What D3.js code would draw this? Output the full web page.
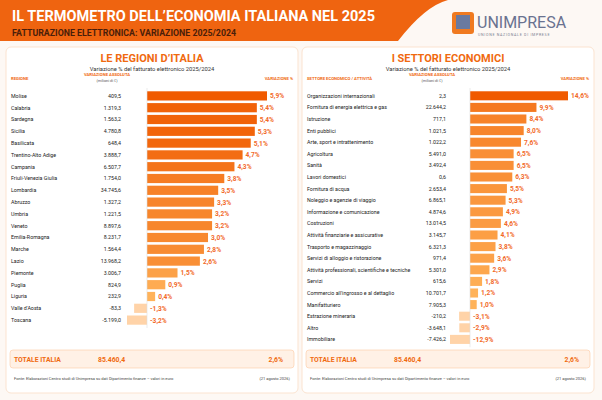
<!DOCTYPE html>
<html><head><meta charset="utf-8">
<script src="https://cdn.jsdelivr.net/npm/d3@7"></script>
<style>body{margin:0;background:#fff;font-family:Roboto,sans-serif}</style>
</head><body><div class="graph"></div>
<script>
var regioni = ["Molise","Calabria","Sardegna","Sicilia","Basilicata","Trentino-Alto Adige","Campania","Friuli-Venezia Giulia","Lombardia","Abruzzo","Umbria","Veneto","Emilia-Romagna","Marche","Lazio","Piemonte","Puglia","Liguria","Valle d'Aosta","Toscana"];
var regioniAbs = ["409,5","1.319,3","1.563,2","4.780,8","648,4","3.888,7","6.507,7","1.754,0","34.745,6","1.327,2","1.221,5","8.897,6","8.231,7","1.564,4","13.968,2","3.006,7","824,9","232,9","-83,3","-5.199,0"];
var regioniPct = [5.9,5.4,5.4,5.3,5.1,4.7,4.3,3.8,3.5,3.3,3.2,3.2,3.0,2.8,2.6,1.5,0.9,0.4,-1.3,-3.2];

var settori = ["Organizzazioni internazionali","Fornitura di energia elettrica e gas","Istruzione","Enti pubblici","Arte, sport e intrattenimento","Agricoltura","Sanità","Lavori domestici","Fornitura di acqua","Noleggio e agenzie di viaggio","Informazione e comunicazione","Costruzioni","Attività finanziarie e assicurative","Trasporto e magazzinaggio","Servizi di alloggio e ristorazione","Attività professionali, scientifiche e tecniche","Servizi","Commercio all'ingrosso e al dettaglio","Manifatturiero","Estrazione mineraria","Altro","Immobiliare"];
var settoriAbs = ["2,3","22.644,2","717,1","1.021,5","1.022,2","5.491,0","3.492,4","0,6","2.653,4","6.865,1","4.874,6","13.014,5","3.145,7","6.321,3","971,4","5.301,0","615,6","10.701,7","7.905,3","-210,2","-3.648,1","-7.426,2"];
var settoriPct = [14.6,9.9,8.4,8.0,7.6,6.5,6.5,6.3,5.5,5.3,4.9,4.6,4.1,3.8,3.6,2.9,1.8,1.2,1.0,-3.1,-2.9,-12.9];

var totaleAbs = "85.460,4", totalePct = "2,6%";

var width = 602, height = 400;
var orange = "#f06a10";
var fmt = function (v) { return String(v.toFixed(1)).replace(".", ",") + "%"; };

var svg = d3.select(".graph").append("svg")
    .attr("width", width).attr("height", height)
    .style("display", "block");

svg.append("rect").attr("width", width).attr("height", height).attr("fill", "#fdf8f4");

// Header band
svg.append("path").attr("d", "M0,0 H448 Q425,6 398,41 H0 Z").attr("fill", "#ef6410");
svg.append("text").attr("x", 12).attr("y", 21).text("IL TERMOMETRO DELL’ECONOMIA ITALIANA NEL 2025")
    .attr("fill", "#fff").attr("font-size", 14.5).attr("font-weight", 700).attr("font-family", "Roboto");
svg.append("text").attr("x", 12).attr("y", 36).text("FATTURAZIONE ELETTRONICA: VARIAZIONE 2025/2024")
    .attr("fill", "#4a1e0a").attr("font-size", 8.8).attr("font-weight", 700);

// Logo
var logo = svg.append("g").attr("transform", "translate(452,12)");
logo.append("rect").attr("width", 22).attr("height", 22).attr("rx", 3).attr("fill", "#f07a20");
logo.append("rect").attr("x", 4).attr("y", 3).attr("width", 14).attr("height", 14).attr("fill", "#6a7aa0");
logo.append("text").attr("x", 25).attr("y", 16).text("UNIMPRESA").attr("fill", "#6a7290")
    .attr("font-size", 16).attr("font-family", "Roboto").attr("font-weight", 400);
logo.append("text").attr("x", 26).attr("y", 24).text("UNIONE NAZIONALE DI IMPRESE").attr("fill", "#7a7f90")
    .attr("font-size", 3.6).attr("letter-spacing", 0.7);

function panel(opt) {
    var g = svg.append("g");
    g.append("rect").attr("x", opt.x0).attr("y", 47).attr("width", 292).attr("height", 346)
        .attr("rx", 5).attr("fill", "#fff").attr("stroke", "#fbe3d0");
    var cx = opt.x0 + 146;
    g.append("text").attr("x", cx).attr("y", 62).attr("text-anchor", "middle").text(opt.title)
        .attr("fill", orange).attr("font-size", 11).attr("font-weight", 700);
    g.append("text").attr("x", cx).attr("y", 71).attr("text-anchor", "middle")
        .text("Variazione % del fatturato elettronico 2025/2024").attr("fill", "#333").attr("font-size", 5.8);
    g.append("text").attr("x", opt.x0 + 5).attr("y", 80).text(opt.colName).attr("fill", orange).attr("font-size", 4.2).attr("font-weight", 700);
    g.append("text").attr("x", opt.absX - 14).attr("y", 76).attr("text-anchor", "middle").text("VARIAZIONE ASSOLUTA").attr("fill", orange).attr("font-size", 4.2).attr("font-weight", 700);
    g.append("text").attr("x", opt.absX - 14).attr("y", 82).attr("text-anchor", "middle").text("(milioni di €)").attr("fill", "#555").attr("font-size", 3.8);
    g.append("text").attr("x", opt.x0 + 287).attr("y", 80).attr("text-anchor", "end").text("VARIAZIONE %").attr("fill", orange).attr("font-size", 4.2).attr("font-weight", 700);

    var y = d3.scaleBand().domain(opt.names).range([90, 90 + opt.step * opt.names.length]).paddingInner(0.22).paddingOuter(0.11);
    var maxP = d3.max(opt.pct);
    var xPos = d3.scaleLinear().domain([0, maxP]).range([opt.axisX, opt.maxX]);
    var xNeg = d3.scaleLinear().domain([0, d3.min(opt.pct)]).range([opt.axisX - 8, opt.axisX - 20]);
    var color = d3.scaleLinear().domain([d3.min(opt.pct.filter(function (d) { return d > 0; })), maxP])
        .range(["#ffb35a", "#f05a00"]).interpolate(d3.interpolateRgb);

    opt.names.forEach(function (n, i) {
        var p = opt.pct[i], yy = y(n), cy = yy + y.bandwidth() / 2 + 1.9;
        g.append("text").attr("x", opt.x0 + 5).attr("y", cy).text(n).attr("fill", "#222").attr("font-size", 5.3);
        g.append("text").attr("x", opt.absX).attr("y", cy).attr("text-anchor", "end").text(opt.abs[i]).attr("fill", "#222").attr("font-size", 5.3);
        var x1 = p >= 0 ? xPos(p) : xNeg(p);
        g.append("rect").attr("x", Math.min(x1, opt.axisX)).attr("y", yy)
            .attr("width", Math.abs(x1 - opt.axisX)).attr("height", y.bandwidth())
            .attr("fill", p >= 0 ? color(p) : "#ffd3a8");
        g.append("text").attr("x", (p >= 0 ? x1 : opt.axisX) + 3).attr("y", cy + 0.5).text(fmt(p))
            .attr("fill", "#f26a2a").attr("font-size", 6.6).attr("font-weight", 700);
    });
    var yEnd = y.range()[1];
    g.append("line").attr("x1", opt.axisX).attr("x2", opt.axisX).attr("y1", 88).attr("y2", yEnd + 2).attr("stroke", "#ddd").attr("stroke-width", 0.6);

    g.append("rect").attr("x", opt.x0 + 4).attr("y", 350).attr("width", 284).attr("height", 18).attr("rx", 3)
        .attr("fill", "#fff1e6").attr("stroke", "#fbc9a3").attr("stroke-width", 0.6);
    g.append("text").attr("x", opt.x0 + 8).attr("y", 361.5).text("TOTALE ITALIA").attr("fill", orange).attr("font-size", 6.8).attr("font-weight", 700);
    g.append("text").attr("x", opt.x0 + 92).attr("y", 361.5).text(totaleAbs).attr("fill", orange).attr("font-size", 6.8).attr("font-weight", 700);
    g.append("text").attr("x", opt.x0 + 277).attr("y", 361.5).attr("text-anchor", "end").text(totalePct).attr("fill", orange).attr("font-size", 6.8).attr("font-weight", 700);
    g.append("text").attr("x", opt.x0 + 8).attr("y", 380).text("Fonte: Elaborazioni Centro studi di Unimpresa su dati Dipartimento finanze – valori in euro").attr("fill", "#444").attr("font-size", 4);
    g.append("text").attr("x", opt.x0 + 284).attr("y", 380).attr("text-anchor", "end").text("(21 agosto 2026)").attr("fill", "#444").attr("font-size", 4);
}

panel({x0: 6, title: "LE REGIONI D’ITALIA", colName: "REGIONE", names: regioni, abs: regioniAbs, pct: regioniPct,
    absX: 121, axisX: 147, maxX: 267, step: 11.8});
panel({x0: 302, title: "I SETTORI ECONOMICI", colName: "SETTORE ECONOMICO / ATTIVITÀ", names: settori, abs: settoriAbs, pct: settoriPct,
    absX: 446, axisX: 470, maxX: 568, step: 11.6});
</script></body></html>
